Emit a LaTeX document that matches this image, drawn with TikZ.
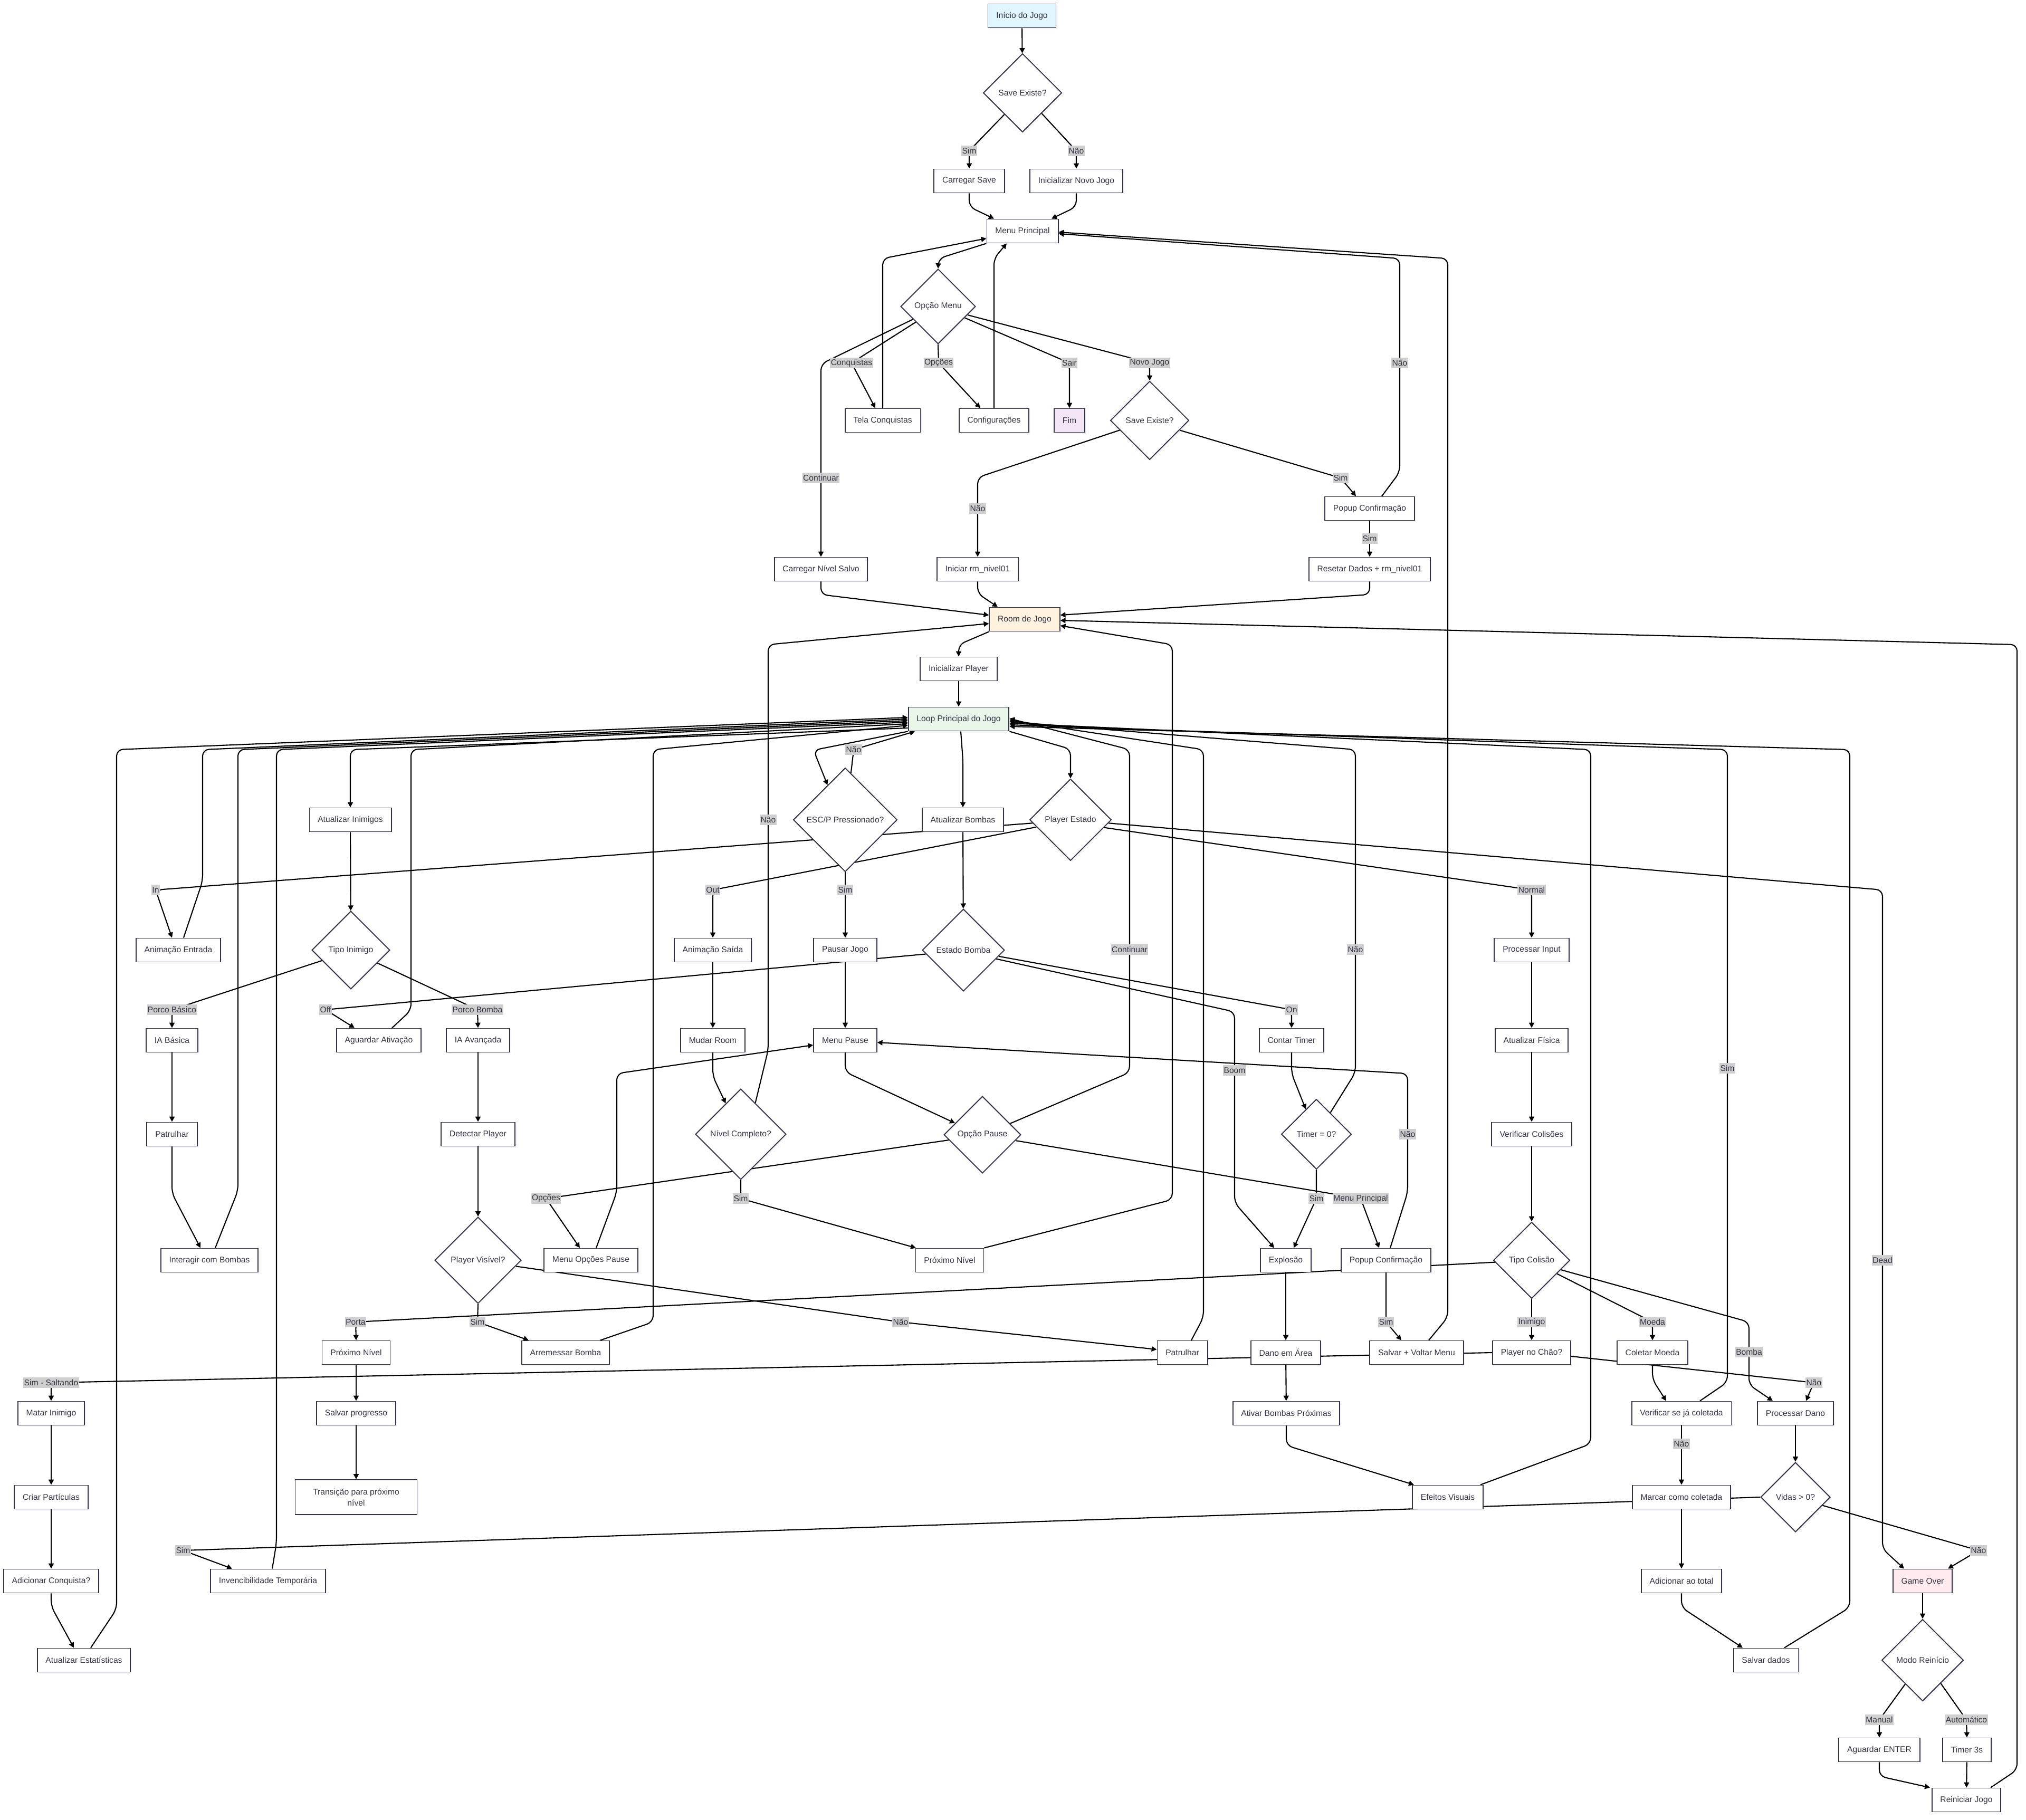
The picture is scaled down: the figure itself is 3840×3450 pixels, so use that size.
\documentclass[tikz,border=0pt]{standalone}
\usepackage{fontspec}
\setmainfont{Liberation Sans}
\usetikzlibrary{arrows.meta,shapes.geometric,backgrounds,shadows}
\definecolor{nodeLine}{HTML}{333348}
\definecolor{txtDark}{HTML}{333344}
\definecolor{lblGray}{HTML}{CFCFCF}
\definecolor{startBlue}{HTML}{E1F5FE}
\definecolor{endPurple}{HTML}{F3E5F5}
\definecolor{roomOrange}{HTML}{FFF3E0}
\definecolor{loopGreen}{HTML}{E8F5E9}
\definecolor{overRed}{HTML}{FFEBEE}

\begin{document}
\begin{tikzpicture}[x=0.1mm, y=-0.1mm,
  font=\fontsize{4.45}{5.4}\selectfont, text=txtDark,
  box/.style={draw=nodeLine, fill=white, line width=0.55pt, inner xsep=4.5pt, inner ysep=2pt,
    minimum height=4.5mm, drop shadow={shadow xshift=0.3mm, shadow yshift=-0.3mm, opacity=0.06}},
  dec/.style={box, diamond, aspect=1, inner sep=0pt},
  lbl/.style={fill=lblGray, inner xsep=0.4pt, inner ysep=0.5pt, minimum height=2mm},
  flow/.style={line width=0.6pt, -{Triangle[length=2.8pt,width=2.8pt]}, rounded corners=1.2mm}]
\useasboundingbox (0,0) rectangle (3840,3450);

\node[box, fill=startBlue] (ini) at (1937,30) {Início do Jogo};
\node[dec, minimum size=14.9mm] (saveA) at (1938,176) {Save Existe?};
\node[box] (csave) at (1837,343) {Carregar Save};
\node[box] (novo) at (2040,343) {Inicializar Novo Jogo};
\node[box] (menu) at (1938,438) {Menu Principal};
\node[dec, minimum size=14.2mm] (opm) at (1778,581) {Opção Menu};
\node[box] (tela) at (1673,797) {Tela Conquistas};
\node[box] (conf) at (1884,797) {Configurações};
\node[box, fill=endPurple] (fim) at (2027,797) {Fim};
\node[dec, minimum size=14.9mm] (saveB) at (2179,797) {Save Existe?};
\node[box] (popA) at (2596,964) {Popup Confirmação};
\node[box] (cnivel) at (1556,1079) {Carregar Nível Salvo};
\node[box] (inic) at (1853,1079) {Iniciar rm\_nivel01};
\node[box] (reset) at (2596,1079) {Resetar Dados + rm\_nivel01};
\node[box, fill=roomOrange] (room) at (1942,1174) {Room de Jogo};
\node[box] (iplay) at (1817,1268) {Inicializar Player};
\node[box, fill=loopGreen] (loop) at (1817,1363) {Loop Principal do Jogo};

\node[box] (ainim) at (664,1554) {Atualizar Inimigos};
\node[dec, minimum size=19.7mm] (esc) at (1602,1554) {ESC/P Pressionado?};
\node[box] (abomb) at (1825,1554) {Atualizar Bombas};
\node[dec, minimum size=15.5mm] (pest) at (2029,1554) {Player Estado};
\node[box] (anent) at (338,1801) {Animação Entrada};
\node[dec, minimum size=14.8mm] (tinim) at (665,1801) {Tipo Inimigo};
\node[box] (ansai) at (1351,1801) {Animação Saída};
\node[box] (pausa) at (1602,1801) {Pausar Jogo};
\node[dec, minimum size=15.6mm] (ebomb) at (1826,1801) {Estado Bomba};
\node[box] (pinput) at (2903,1801) {Processar Input};
\node[box] (iabas) at (326,1972) {IA Básica};
\node[box] (aguard) at (718,1972) {Aguardar Ativação};
\node[box] (iaava) at (906,1972) {IA Avançada};
\node[box] (mudar) at (1351,1972) {Mudar Room};
\node[box] (mpause) at (1602,1972) {Menu Pause};
\node[box] (ctimer) at (2448,1972) {Contar Timer};
\node[box] (afis) at (2903,1972) {Atualizar Física};
\node[box] (patA) at (326,2150) {Patrulhar};
\node[box] (detect) at (906,2150) {Detectar Player};
\node[dec, minimum size=17.2mm] (ncomp) at (1404,2150) {Nível Completo?};
\node[dec, minimum size=14.6mm] (opp) at (1862,2151) {Opção Pause};
\node[dec, minimum size=13.3mm] (tzero) at (2495,2150) {Timer = 0?};
\node[box] (vcol) at (2903,2150) {Verificar Colisões};
\node[box] (inter) at (397,2389) {Interagir com Bombas};
\node[dec, minimum size=16.4mm] (pvis) at (906,2389) {Player Visível?};
\node[box] (mopc) at (1120,2389) {Menu Opções Pause};
\node[box] (proxB) at (1800,2389) {Próximo Nível};
\node[box] (expl) at (2437,2389) {Explosão};
\node[box] (popB) at (2627,2389) {Popup Confirmação};
\node[dec, minimum size=14.5mm] (tcol) at (2903,2389) {Tipo Colisão};
\node[box] (proxA) at (675,2564) {Próximo Nível};
\node[box] (arrem) at (1072,2564) {Arremessar Bomba};
\node[box] (patB) at (2241,2564) {Patrulhar};
\node[box] (dano) at (2437,2564) {Dano em Área};
\node[box] (salvv) at (2685,2564) {Salvar + Voltar Menu};
\node[box] (chao) at (2903,2564) {Player no Chão?};
\node[box] (moeda) at (3132,2564) {Coletar Moeda};
\node[box] (matar) at (97,2679) {Matar Inimigo};
\node[box] (sprog) at (675,2679) {Salvar progresso};
\node[box] (ativ) at (2438,2679) {Ativar Bombas Próximas};
\node[box] (verif) at (3187,2679) {Verificar se já coletada};
\node[box] (pdano) at (3403,2679) {Processar Dano};
\node[box] (part) at (97,2838) {Criar Partículas};
\node[box, align=center, minimum width=23.1mm, minimum height=6.6mm,
  font=\fontsize{4.45}{6}\selectfont] (trans) at (675,2838) {Transição para próximo\\nível};
\node[box] (efeit) at (2744,2838) {Efeitos Visuais};
\node[box] (marc) at (3187,2838) {Marcar como coletada};
\node[dec, minimum size=13.2mm] (vidas) at (3403,2838) {Vidas > 0?};
\node[box] (conq) at (97,2997) {Adicionar Conquista?};
\node[box] (inv) at (508,2997) {Invencibilidade Temporária};
\node[box] (total) at (3187,2997) {Adicionar ao total};
\node[box, fill=overRed] (gover) at (3644,2997) {Game Over};
\node[box] (stat) at (159,3147) {Atualizar Estatísticas};
\node[box] (sdados) at (3347,3147) {Salvar dados};
\node[dec, minimum size=15.5mm] (modo) at (3644,3147) {Modo Reinício};
\node[box] (aenter) at (3562,3317) {Aguardar ENTER};
\node[box] (t3s) at (3728,3317) {Timer 3s};
\node[box] (reini) at (3727,3412) {Reiniciar Jogo};

\node[lbl] (lA1) at (1837,286) {Sim};
\node[lbl] (lA2) at (2040,286) {Não};
\node[lbl] (lConq) at (1614,688) {Conquistas};
\node[lbl] (lOpc) at (1779,688) {Opções};
\node[lbl] (lSair) at (2027,688) {Sair};
\node[lbl] (lNovo) at (2179,688) {Novo Jogo};
\node[lbl] (lNaoM) at (2653,688) {Não};
\node[lbl] (lCont) at (1556,906) {Continuar};
\node[lbl] (lSimB) at (2541,906) {Sim};
\node[lbl] (lNaoB) at (1853,964) {Não};
\node[lbl] (lSimP) at (2596,1021) {Sim};
\node[lbl] (lNaoEsc) at (1618,1421) {Não};
\node[lbl] (lNaoNc) at (1456,1554) {Não};
\node[lbl] (lIn) at (295,1687) {In};
\node[lbl] (lOut) at (1351,1687) {Out};
\node[lbl] (lSimEsc) at (1602,1687) {Sim};
\node[lbl] (lNormal) at (2903,1687) {Normal};
\node[lbl] (lContP) at (2141,1800) {Continuar};
\node[lbl] (lNaoT) at (2569,1800) {Não};
\node[lbl] (lBasico) at (326,1914) {Porco Básico};
\node[lbl] (lOff) at (617,1914) {Off};
\node[lbl] (lBomba) at (905,1914) {Porco Bomba};
\node[lbl] (lOn) at (2448,1914) {On};
\node[lbl] (lSimV) at (3274,2025) {Sim};
\node[lbl] (lBoom) at (2340,2029) {Boom};
\node[lbl] (lNaoPop) at (2668,2150) {Não};
\node[lbl] (lOpcP) at (1035,2272) {Opções};
\node[lbl] (lSimNc) at (1404,2272) {Sim};
\node[lbl] (lSimT) at (2495,2272) {Sim};
\node[lbl] (lMenuP) at (2579,2272) {Menu Principal};
\node[lbl] (lDead) at (3568,2389) {Dead};
\node[lbl] (lPorta) at (674,2506) {Porta};
\node[lbl] (lSimPv) at (905,2506) {Sim};
\node[lbl] (lNaoPv) at (1707,2506) {Não};
\node[lbl] (lSimPop) at (2627,2506) {Sim};
\node[lbl] (lInim) at (2903,2506) {Inimigo};
\node[lbl] (lMoeda) at (3132,2506) {Moeda};
\node[lbl] (lBombaC) at (3315,2563) {Bomba};
\node[lbl] (lSalt) at (97,2621) {Sim - Saltando};
\node[lbl] (lNaoCh) at (3438,2621) {Não};
\node[lbl] (lNaoVer) at (3187,2737) {Não};
\node[lbl] (lSimVid) at (347,2939) {Sim};
\node[lbl] (lNaoVid) at (3750,2939) {Não};
\node[lbl] (lManual) at (3562,3260) {Manual};
\node[lbl] (lAuto) at (3727,3260) {Automático};

\begin{scope}[on background layer]
\fill[white] (0,0) rectangle (3840,3450);
\draw[flow] (ini) -- (saveA);
\draw[flow] (saveA.230) -- (lA1.center) -- (csave.north);
\draw[flow] (saveA.313) -- (lA2.center) -- (novo.north);
\draw[flow] (csave.south) -- (1837,392) -- (1884,0 |- menu.north);
\draw[flow] (novo.south) -- (2040,392) -- (1993,0 |- menu.north);
\draw[flow] (menu.south west) -- (1779,490) -- (opm.north);
\draw[flow] (opm.207) -- (1556,690) -- (lCont.center) -- (cnivel.north);
\draw[flow] (opm.215) -- (lConq.center) -- (1659,0 |- tela.north);
\draw[flow] (opm.south) -- (lOpc.center) -- (1858,0 |- conf.north);
\draw[flow] (opm.337) -- (lSair.center) -- (fim.north);
\draw[flow] (opm.344) -- (lNovo.center) -- (saveB.north);
\draw[flow] (saveB.198) -- (1853,905) -- (lNaoB.center) -- (inic.north);
\draw[flow] (saveB.342) -- (lSimB.center) -- (2570,0 |- popA.north);
\draw[flow] (popA.south) -- (lSimP.center) -- (reset.north);
\draw[flow] (2619,0 |- popA.north) -- (2653,895) -- (lNaoM.center) -- (2653,490) -- (menu.east |- 0,443);
\draw[flow] (tela.north) -- (1673,490) -- (menu.west |- 0,452);
\draw[flow] (conf.north) -- (1884,490) -- (1908,0 |- menu.south);
\draw[flow] (cnivel.south) -- (1556,1127) -- (room.west |- 0,1166);
\draw[flow] (inic.south) -- (1853,1125) -- (1891,0 |- room.north);
\draw[flow] (reset.south) -- (2596,1127) -- (room.east |- 0,1166);
\draw[flow] (room.south west) -- (1817,1222) -- (iplay.north);
\draw[flow] (iplay) -- (loop);

\draw[flow] (loop.south west) -- (1542,1422) -- (esc.117);
\draw[flow] (esc.83) -- (lNaoEsc.center) -- (1734,0 |- loop.south);
\draw[flow] (1821,0 |- loop.south) -- (1825,1440) -- (abomb.north);
\draw[flow] (loop.south east) -- (2029,1420) -- (pest.north);
\draw[flow] (loop.west |- 0,1380) -- (664,1421) -- (ainim.north);
\draw[flow] (172,0 |- stat.north) -- (221,3050) -- (221,1421) -- (loop.west |- 0,1360);
\draw[flow] (348,0 |- anent.north) -- (384,1670) -- (384,1421) -- (loop.west |- 0,1363);
\draw[flow] (408,0 |- inter.north) -- (451,2257) -- (451,1421) -- (loop.west |- 0,1366);
\draw[flow] (516,0 |- inv.north) -- (524,2925) -- (524,1421) -- (loop.west |- 0,1369);
\draw[flow] (743,0 |- aguard.north) -- (779,1915) -- (779,1421) -- (loop.west |- 0,1372);
\draw[flow] (1138,0 |- arrem.north) -- (1238,2506) -- (1238,1421) -- (loop.west |- 0,1375);
\draw[flow] (opp.22) -- (2141,2033) -- (lContP.center) -- (2141,1421) -- (loop.east |- 0,1362);
\draw[flow] (2258,0 |- patB.north) -- (2281,2497) -- (2281,1421) -- (loop.east |- 0,1365);
\draw[flow] (tzero.57) -- (2569,2033) -- (lNaoT.center) -- (2569,1421) -- (loop.east |- 0,1368);
\draw[flow] (2806,0 |- efeit.north) -- (3015,2737) -- (3015,1421) -- (loop.east |- 0,1371);
\draw[flow] (3222,0 |- verif.north) -- (3274,2620) -- (lSimV.center) -- (3274,1421) -- (loop.east |- 0,1374);
\draw[flow] (3382,0 |- sdados.north) -- (3506,3047) -- (3506,1421) -- (loop.east |- 0,1377);

\draw[flow] (pest.355) -- (3568,1687) -- (lDead.center) -- (3568,2936) -- (3609,0 |- gover.north);
\draw[flow] (pest.347) -- (lNormal.center) -- (pinput.north);
\draw[flow] (pest.185) -- (lIn.center) -- (326,0 |- anent.north);
\draw[flow] (pest.192) -- (lOut.center) -- (ansai.north);
\draw[flow] (ainim) -- (tinim);
\draw[flow] (abomb) -- (ebomb);
\draw[flow] (tinim.200) -- (lBasico.center) -- (iabas.north);
\draw[flow] (tinim.334) -- (lBomba.center) -- (iaava.north);
\draw[flow] (ebomb.186) -- (lOff.center) -- (672,0 |- aguard.north);
\draw[flow] (ebomb.350) -- (lOn.center) -- (ctimer.north);
\draw[flow] (ebomb.345) -- (2340,1918) -- (lBoom.center) -- (2340,2280) -- (2415,0 |- expl.north);
\draw[flow] (ctimer.south) -- (2448,2035) -- (tzero.113);
\draw[flow] (tzero.south) -- (lSimT.center) -- (2452,0 |- expl.north);
\draw[flow] (expl) -- (dano);
\draw[flow] (dano) -- (ativ);
\draw[flow] (ativ.south) -- (2438,2740) -- (2680,0 |- efeit.north);

\draw[flow] (esc.south) -- (lSimEsc.center) -- (pausa.north);
\draw[flow] (pausa) -- (mpause);
\draw[flow] (mpause.south) -- (1602,2032) -- (opp.157);
\draw[flow] (opp.350) -- (lMenuP.center) -- (2614,0 |- popB.north);
\draw[flow] (opp.189) -- (lOpcP.center) -- (1099,0 |- mopc.north);
\draw[flow] (1130,0 |- mopc.north) -- (1169,2260) -- (1169,2035) -- (mpause.west |- 0,1981);
\draw[flow] (2635,0 |- popB.north) -- (2668,2260) -- (lNaoPop.center) -- (2668,2035) -- (mpause.east |- 0,1976);
\draw[flow] (popB.south) -- (lSimPop.center) -- (2656,0 |- salvv.north);
\draw[flow] (2708,0 |- salvv.north) -- (2744,2497) -- (2744,490) -- (menu.east |- 0,440);
\draw[flow] (ansai) -- (mudar);
\draw[flow] (mudar.south) -- (1351,2040) -- (ncomp.116);
\draw[flow] (ncomp.65) -- (1456,1990) -- (lNaoNc.center) -- (1456,1222) -- (room.west |- 0,1182);
\draw[flow] (ncomp.south) -- (lSimNc.center) -- (1736,0 |- proxB.north);
\draw[flow] (proxB.north east) -- (2222,2274) -- (2222,1222) -- (room.east |- 0,1186);
\draw[flow] (3773,0 |- reini.north) -- (3823,3355) -- (3823,1222) -- (room.east |- 0,1176);

\draw[flow] (iabas) -- (patA);
\draw[flow] (patA.south) -- (326,2262) -- (380,0 |- inter.north);
\draw[flow] (iaava) -- (detect);
\draw[flow] (detect) -- (pvis);
\draw[flow] (pvis.south) -- (lSimPv.center) -- (1002,0 |- arrem.north);
\draw[flow] (pvis.351) -- (lNaoPv.center) -- (patB.west |- 0,2558);
\draw[flow] (pinput) -- (afis);
\draw[flow] (afis) -- (vcol);
\draw[flow] (vcol) -- (tcol);
\draw[flow] (tcol.183) -- (lPorta.center) -- (proxA.north);
\draw[flow] (tcol.south) -- (lInim.center) -- (chao.north);
\draw[flow] (tcol.332) -- (lMoeda.center) -- (moeda.north);
\draw[flow] (tcol.342) -- (3315,2506) -- (lBombaC.center) -- (3315,2625) -- (3360,0 |- pdano.north);
\draw[flow] (chao.west) -- (lSalt.center) -- (matar.north);
\draw[flow] (chao.east |- 0,2571) -- (lNaoCh.center) -- (3423,0 |- pdano.north);
\draw[flow] (moeda.south) -- (3132,2615) -- (3158,0 |- verif.north);
\draw[flow] (verif.south) -- (lNaoVer.center) -- (marc.north);
\draw[flow] (marc) -- (total);
\draw[flow] (total.south) -- (3187,3047) -- (3303,0 |- sdados.north);
\draw[flow] (pdano) -- (vidas);
\draw[flow] (vidas.west) -- (lSimVid.center) -- (440,0 |- inv.north);
\draw[flow] (vidas.343) -- (lNaoVid.center) -- (3692,0 |- gover.north);
\draw[flow] (gover) -- (modo);
\draw[flow] (modo.234) -- (lManual.center) -- (aenter.north);
\draw[flow] (modo.308) -- (lAuto.center) -- (t3s.north);
\draw[flow] (aenter.south) -- (3562,3367) -- (3658,0 |- reini.north);
\draw[flow] (t3s) -- (reini);
\draw[flow] (matar) -- (part);
\draw[flow] (part) -- (conq);
\draw[flow] (conq.south) -- (97,3045) -- (140,0 |- stat.north);
\draw[flow] (proxA) -- (sprog);
\draw[flow] (sprog) -- (trans);
\end{scope}
\end{tikzpicture}
\end{document}
